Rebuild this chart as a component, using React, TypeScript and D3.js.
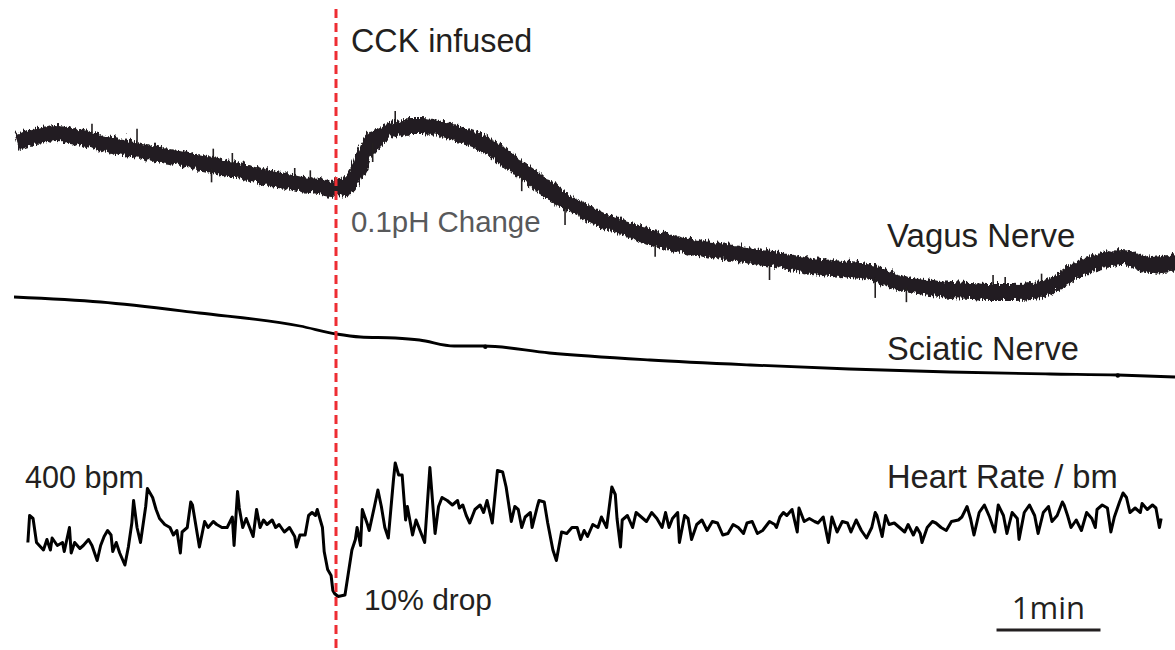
import React from "react";
import * as d3 from "d3";

// ---- data ----
// time axis in seconds
const DURATION_S = [0, 670];
const CCK_TIME_S = 186;
const SCALE_BAR_START_S = 567;
const SCALE_BAR_LEN_S = 60;

// Vagus nerve pH trace (time s, ΔpH)
const VAGUS: [number, number][] = [
  [0, 0.16], [6, 0.163], [15, 0.167], [24, 0.169], [32, 0.166], [41, 0.163], [50, 0.159],
  [58, 0.156], [69, 0.152], [78, 0.149], [88, 0.146], [99, 0.142], [107, 0.139], [116, 0.136],
  [126, 0.132], [136, 0.128], [146, 0.124], [156, 0.121], [165, 0.118], [174, 0.116], [182, 0.113],
  [186, 0.116], [189, 0.113], [193, 0.12], [196, 0.128], [199, 0.138], [201, 0.148], [204, 0.156],
  [207, 0.162], [211, 0.167], [217, 0.172], [223, 0.174], [228, 0.176], [234, 0.176], [240, 0.175],
  [246, 0.173], [252, 0.17], [257, 0.167], [263, 0.163], [269, 0.159], [275, 0.153], [280, 0.147],
  [286, 0.139], [292, 0.132], [298, 0.125], [303, 0.117], [309, 0.11], [315, 0.103], [321, 0.097],
  [327, 0.092], [332, 0.087], [338, 0.082], [347, 0.076], [355, 0.071], [367, 0.065], [378, 0.059],
  [390, 0.055], [402, 0.052], [413, 0.049], [425, 0.046], [436, 0.043], [448, 0.039], [459, 0.036],
  [471, 0.034], [482, 0.032], [494, 0.029], [505, 0.022], [517, 0.017], [528, 0.014], [540, 0.012],
  [552, 0.011], [563, 0.01], [575, 0.01], [586, 0.011], [595, 0.014], [603, 0.022], [612, 0.032],
  [621, 0.038], [629, 0.042], [638, 0.045], [644, 0.043], [650, 0.039], [655, 0.037], [661, 0.038],
  [670, 0.04],
];

// brief transients on the vagus trace (time s, ΔpH excursion from the trace)
const VAGUS_SPIKES: [number, number][] = [
  [45, 0.015], [71, 0.02], [114, -0.019], [115, 0.015], [126, 0.015], [162, 0.013], [171, 0.013],
  [207, -0.024], [220, 0.016], [293, -0.022], [318, -0.025], [370, -0.02], [436, -0.023],
  [497, -0.025], [515, -0.02], [565, 0.015], [572, 0.013], [593, 0.013],
];

// Sciatic nerve trace (time s, mV)
const SCIATIC: [number, number][] = [
  [0, 1.03], [50, 0.98], [107, 0.87], [165, 0.74], [186, 0.66], [200, 0.63], [220, 0.62],
  [234, 0.6], [254, 0.54], [271, 0.54], [309, 0.47], [367, 0.4], [425, 0.35], [482, 0.31],
  [540, 0.28], [598, 0.26], [637, 0.25], [670, 0.23],
];
const SCIATIC_ARTIFACTS_S = [272, 637];

// Heart rate (time s, bpm)
const HEART_RATE: [number, number][] = [
  [8, 365], [9, 383], [11, 381], [13, 365], [17, 360], [19, 367], [21, 360], [22, 368], [25, 363],
  [28, 365], [29, 359], [32, 375], [33, 358], [35, 365], [38, 361], [40, 363], [43, 367], [45, 363],
  [48, 353], [50, 363], [52, 369], [54, 373], [56, 370], [57, 359], [59, 365], [61, 358], [64, 350],
  [66, 362], [68, 378], [69, 393], [71, 375], [73, 365], [76, 389], [77, 401], [80, 395], [82, 387],
  [84, 381], [87, 377], [90, 375], [92, 370], [94, 373], [96, 358], [97, 372], [100, 375], [102, 392],
  [103, 390], [106, 369], [107, 362], [110, 379], [112, 375], [115, 379], [117, 377], [120, 375],
  [123, 375], [126, 382], [127, 363], [129, 399], [130, 388], [132, 375], [134, 381], [136, 375],
  [138, 369], [140, 387], [142, 375], [144, 380], [146, 377], [149, 380], [151, 375], [153, 377],
  [156, 372], [159, 375], [162, 369], [163, 362], [165, 370], [168, 370], [170, 383], [172, 385],
  [174, 383], [175, 387], [178, 375], [179, 359], [181, 347], [183, 343], [184, 333], [185, 331],
  [187, 329], [191, 330], [193, 345], [195, 360], [197, 367], [198, 375], [200, 363], [201, 387],
  [204, 377], [205, 373], [208, 389], [210, 400], [212, 389], [214, 375], [216, 368], [219, 407],
  [220, 418], [222, 410], [224, 410], [226, 380], [227, 389], [230, 370], [232, 380], [235, 371],
  [237, 365], [240, 415], [243, 371], [245, 389], [247, 395], [250, 393], [253, 390], [256, 393],
  [257, 388], [259, 390], [261, 383], [263, 378], [266, 387], [269, 390], [271, 385], [273, 393],
  [276, 378], [279, 413], [282, 412], [284, 402], [287, 379], [289, 389], [291, 387], [293, 375],
  [295, 382], [298, 385], [299, 375], [302, 389], [303, 393], [306, 392], [308, 378], [311, 360],
  [313, 353], [316, 372], [319, 371], [322, 375], [325, 375], [327, 367], [329, 373], [331, 369],
  [334, 377], [337, 375], [339, 382], [342, 375], [345, 402], [347, 397], [348, 381], [350, 362],
  [351, 380], [354, 383], [357, 375], [359, 385], [362, 382], [365, 379], [368, 385], [371, 381],
  [374, 375], [376, 385], [378, 375], [380, 381], [383, 385], [384, 365], [387, 383], [389, 381],
  [391, 367], [394, 377], [397, 380], [400, 373], [403, 379], [406, 378], [409, 370], [412, 371],
  [415, 377], [418, 375], [421, 371], [423, 378], [426, 379], [429, 371], [432, 373], [436, 379],
  [439, 377], [440, 375], [442, 382], [444, 385], [446, 383], [449, 387], [452, 372], [453, 388],
  [456, 379], [459, 381], [462, 379], [464, 378], [467, 382], [470, 365], [472, 382], [475, 372],
  [478, 379], [481, 378], [483, 372], [486, 380], [489, 373], [492, 368], [495, 375], [497, 385],
  [498, 383], [501, 369], [503, 383], [505, 377], [508, 378], [511, 375], [514, 372], [516, 377],
  [519, 370], [521, 375], [523, 371], [524, 365], [527, 375], [530, 379], [532, 378], [535, 375],
  [538, 373], [541, 379], [545, 380], [547, 382], [550, 389], [552, 381], [554, 370], [557, 385],
  [560, 390], [563, 382], [566, 372], [568, 390], [571, 383], [573, 371], [576, 385], [579, 381],
  [580, 367], [583, 385], [586, 390], [589, 383], [591, 371], [594, 385], [597, 389], [599, 379],
  [602, 383], [605, 392], [606, 390], [608, 383], [610, 375], [613, 380], [616, 373], [619, 385],
  [622, 381], [624, 375], [625, 387], [628, 390], [631, 388], [633, 372], [635, 382], [638, 392],
  [640, 398], [642, 395], [644, 385], [647, 388], [650, 385], [651, 391], [654, 387], [657, 390],
  [659, 388], [661, 375], [662, 381],
];

// labels
const LABEL_CCK = "CCK infused";
const LABEL_PH = "0.1pH Change";
const LABEL_VAGUS = "Vagus Nerve";
const LABEL_SCIATIC = "Sciatic Nerve";
const LABEL_HR = "Heart Rate / bm";
const LABEL_400 = "400 bpm";
const LABEL_DROP = "10% drop";
const LABEL_MIN = "1min";

// ---- chart ----
const W = 1175;
const H = 650;
const INK = "#231f20";
const RED = "#ee2d33";
const FONT = "'Liberation Sans', Arial, Helvetica, sans-serif";

export default function App() {
  const x = d3.scaleLinear().domain(DURATION_S).range([14, 1175]);
  const yV = d3.scaleLinear().domain([0, 0.2]).range([300, 100]);
  const yS = d3.scaleLinear().domain([0, 1]).range([400, 300]);
  const yH = d3.scaleLinear().domain([300, 400]).range([640, 490]);

  const vagusLine = d3
    .line<[number, number]>()
    .x((d) => x(d[0]))
    .y((d) => yV(d[1]))
    .curve(d3.curveMonotoneX);
  const sciaticLine = d3
    .line<[number, number]>()
    .x((d) => x(d[0]))
    .y((d) => yS(d[1]))
    .curve(d3.curveMonotoneX);
  const hrLine = d3
    .line<[number, number]>()
    .x((d) => x(d[0]))
    .y((d) => yH(d[1]))
    .curve(d3.curveLinear);

  const interp = (series: [number, number][], t: number) => {
    const ts = series.map((d) => d[0]);
    const i = d3.bisectLeft(ts, t);
    if (i <= 0) return series[0][1];
    if (i >= series.length) return series[series.length - 1][1];
    const a = series[i - 1];
    const b = series[i];
    return a[1] + ((t - a[0]) / (b[0] - a[0])) * (b[1] - a[1]);
  };

  const cx = Math.round(x(CCK_TIME_S));
  const barX0 = x(SCALE_BAR_START_S);
  const barX1 = x(SCALE_BAR_START_S + SCALE_BAR_LEN_S);

  return (
    <svg
      width={W}
      height={H}
      style={{ position: "absolute", left: 0, top: 0, background: "#fff" }}
      fontFamily={FONT}
    >
      <defs>
        <filter id="rough" x="-2%" y="-30%" width="104%" height="160%">
          <feTurbulence type="turbulence" baseFrequency="0.35 0.04" numOctaves={2} seed={7} result="noise" />
          <feDisplacementMap in="SourceGraphic" in2="noise" scale={8} xChannelSelector="R" yChannelSelector="G" />
        </filter>
      </defs>

      {/* Vagus nerve band */}
      <g filter="url(#rough)">
        <path d={vagusLine(VAGUS) || ""} fill="none" stroke={INK} strokeWidth={16} />
      </g>
      {VAGUS_SPIKES.map(([t, dv], i) => {
        const base = interp(VAGUS, t);
        const y0 = yV(base) + (dv > 0 ? -5 : 5);
        const y1 = yV(base + dv);
        return <line key={i} x1={x(t)} x2={x(t)} y1={y0} y2={y1} stroke={INK} strokeWidth={1.6} />;
      })}

      {/* Sciatic nerve */}
      <path d={sciaticLine(SCIATIC) || ""} fill="none" stroke="#000" strokeWidth={2.8} />
      {SCIATIC_ARTIFACTS_S.map((t, i) => (
        <circle key={i} cx={x(t)} cy={yS(interp(SCIATIC, t)) + 0.5} r={2.2} fill="#000" />
      ))}

      {/* Heart rate */}
      <path
        d={hrLine(HEART_RATE) || ""}
        fill="none"
        stroke="#000"
        strokeWidth={3}
        strokeLinejoin="round"
      />

      {/* CCK marker */}
      <line x1={cx} x2={cx} y1={9} y2={H} stroke={RED} strokeWidth={3} strokeDasharray="9 5" />

      {/* labels */}
      <text x={cx + 15} y={52} fontSize={32.3} fill={INK}>{LABEL_CCK}</text>
      <text x={cx + 15} y={232} fontSize={29.4} fill="#58595b">{LABEL_PH}</text>
      <text x={887} y={247} fontSize={33} fill={INK}>{LABEL_VAGUS}</text>
      <text x={887} y={360} fontSize={32.6} fill={INK}>{LABEL_SCIATIC}</text>
      <text x={887} y={488} fontSize={32.7} fill={INK}>{LABEL_HR}</text>
      <text x={25} y={488} fontSize={30.6} fill={INK}>{LABEL_400}</text>
      <text x={cx + 28} y={610} fontSize={29.9} fill={INK}>{LABEL_DROP}</text>

      {/* scale bar */}
      <text x={(barX0 + barX1) / 2} y={619} fontSize={31} fill={INK} textAnchor="middle" fontFamily="'Open Sans', sans-serif">
        {LABEL_MIN}
      </text>
      <line x1={barX0} x2={barX1} y1={630} y2={630} stroke={INK} strokeWidth={3} />
    </svg>
  );
}
